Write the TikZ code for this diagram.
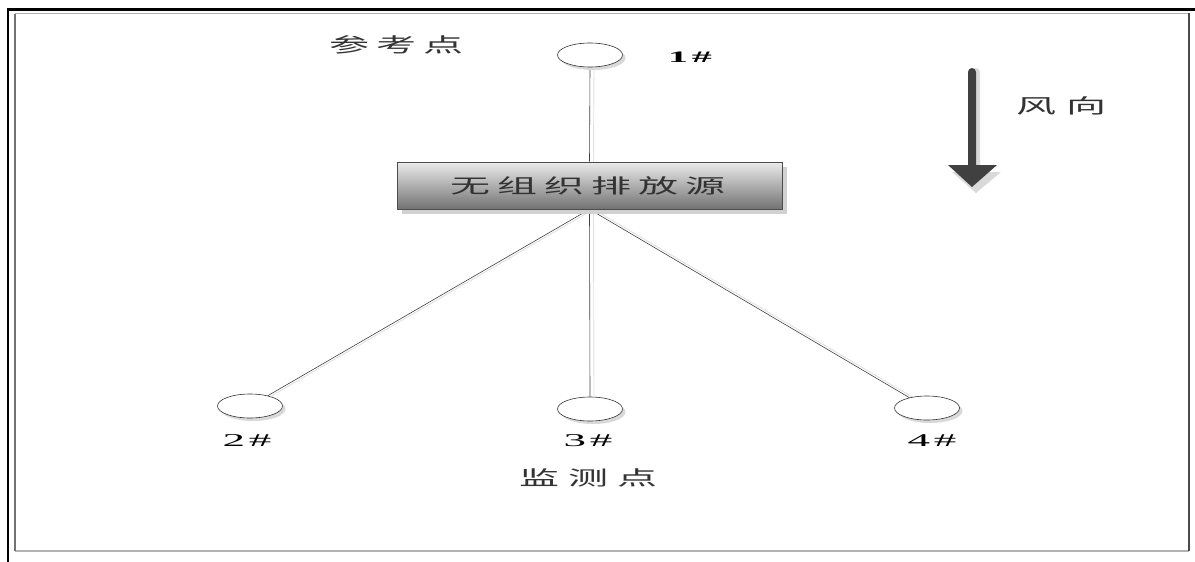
\documentclass[tikz,border=0pt]{standalone}
\usepackage{fontspec}
\usepackage{graphicx}
\newfontfamily\cjk{Noto Sans CJK SC}
\newfontfamily\num{Liberation Serif}
\newcommand\wide[2]{\scalebox{#1}[1]{#2}}
\usetikzlibrary{shapes.geometric,shadows,backgrounds}
\begin{document}
\begin{tikzpicture}[x=1pt,y=-1pt,
  pt/.style={ellipse,draw=black!80,line width=0.6pt,fill=white,
    minimum width=65pt,minimum height=24pt,inner sep=0pt,
    drop shadow={shadow xshift=3pt,shadow yshift=-3pt,fill=black!15,opacity=1}},
  srcbox/.style={rectangle,draw=black!70,line width=0.6pt,
    top color=black!8,bottom color=black!55,
    minimum width=385pt,minimum height=47pt,inner sep=0pt,
    drop shadow={shadow xshift=5pt,shadow yshift=-5pt,fill=black!18,opacity=1}},
  cjklab/.style={inner sep=0pt,font=\cjk\fontsize{20}{20}\selectfont,text=black!80},
  numlab/.style={inner sep=0pt,font=\num\fontsize{18}{18}\selectfont,text=black},
  link/.style={draw=black!75,line width=0.6pt},
  linkshadow/.style={draw=black!12,line width=0.9pt}]
\useasboundingbox (0,0) rectangle (1195,562);
% frame
\draw[black,line width=2.5pt] (8,562) -- (8,9.5) -- (1195,9.5);
\draw[black!30,line width=1pt] (15,13.5) -- (1189,13.5);
\draw[black!30,line width=1.5pt] (15,551) -- (1189,551);
\draw[black!55,line width=1.5pt] (15,551) -- (15,13.5);
\draw[black!70,line width=2pt] (1189,13) -- (1189,551);
% nodes
\node[pt] (e1) at (590,55) {};
\node[pt] (e2) at (250,406) {};
\node[pt] (e3) at (590,409) {};
\node[pt] (e4) at (927,408) {};
\node[srcbox] (src) at (589.5,185.5) {};
\node[cjklab] (srct) at (588,186) {\wide{2}{无\hspace{3.5pt}组\hspace{3.5pt}织\hspace{3.5pt}排\hspace{3.5pt}放\hspace{3.5pt}源}};
\node[cjklab] (ref) at (396,45) {\wide{2}{参\hspace{3.5pt}考\hspace{3.5pt}点}};
\node[cjklab] (mon) at (588,478) {\wide{2}{监\hspace{4.5pt}测\hspace{4.5pt}点}};
\node[cjklab] (wind) at (1061,106) {\wide{2}{风\hspace{5pt}向}};
\node[numlab,font=\num\bfseries\fontsize{16}{16}\selectfont] (l1) at (690,57) {\wide{2.5}{1\hspace{1.5pt}\#}};
\node[numlab] (l2) at (247,441) {\wide{2.5}{2\hspace{1.5pt}\#}};
\node[numlab] (l3) at (588,441) {\wide{2.5}{3\hspace{1.5pt}\#}};
\node[numlab] (l4) at (932,441) {\wide{2.5}{4\hspace{1.5pt}\#}};
% connectors
\begin{scope}[on background layer]
\draw[linkshadow,transform canvas={xshift=4pt}] (e1.south) -- (src.north);
\draw[linkshadow,transform canvas={xshift=4pt}] (src.south) -- (e2);
\draw[linkshadow,transform canvas={xshift=4pt}] (src.south) -- (e3.north);
\draw[linkshadow,transform canvas={xshift=4pt}] (src.south) -- (e4);
\draw[link] (e1.south) -- (src.north);
\draw[link] (src.south) -- (e2);
\draw[link] (src.south) -- (e3.north);
\draw[link] (src.south) -- (e4);
\end{scope}
% wind arrow
\fill[black!15] (972,172) -- (972,72) arc[start angle=180,end angle=0,radius=4pt] -- (980,172) -- (1001,172) -- (976,193) -- (952,172) -- cycle;
\fill[black!75] (968,165) -- (968,72) arc[start angle=180,end angle=0,radius=4pt] -- (976,165) -- (997,165) -- (972,187) -- (948,165) -- cycle;
\end{tikzpicture}
\end{document}
